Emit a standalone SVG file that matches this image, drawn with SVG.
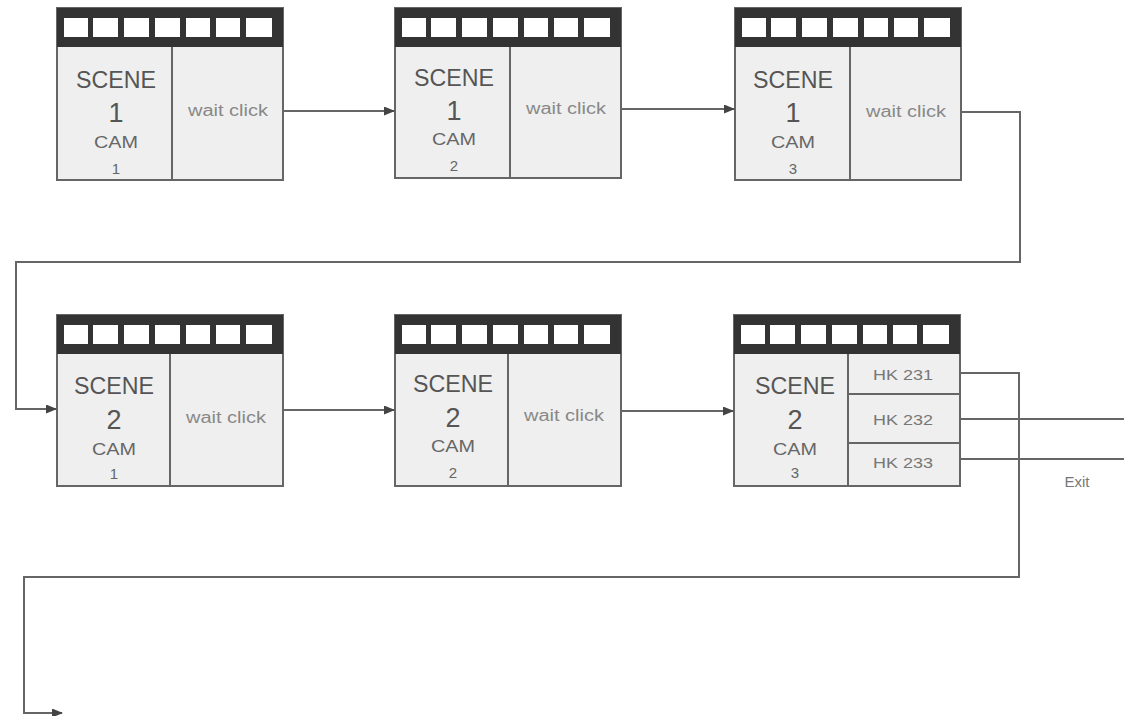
<svg xmlns="http://www.w3.org/2000/svg" width="1124" height="716" viewBox="0 0 1124 716">
<defs>
<marker id="arr" markerWidth="11" markerHeight="9" refX="10" refY="4.5" orient="auto" markerUnits="userSpaceOnUse">
<path d="M0,0 L11,4.5 L0,9 Z" fill="#444"/>
</marker>
<g id="hdr">
<rect x="0" y="0" width="226" height="39" fill="#333"/>
<rect x="7" y="10" width="24" height="19" fill="#fff"/>
<rect x="36" y="10" width="25" height="19" fill="#fff"/>
<rect x="67" y="10" width="25" height="19" fill="#fff"/>
<rect x="98" y="10" width="25" height="19" fill="#fff"/>
<rect x="129" y="10" width="24" height="19" fill="#fff"/>
<rect x="159" y="10" width="24" height="19" fill="#fff"/>
<rect x="189" y="10" width="26" height="19" fill="#fff"/>
</g>
</defs>
<style>
.box{fill:#efefef;stroke:#666;stroke-width:2}
.div{stroke:#666;stroke-width:2}
.t{font-family:"Liberation Sans","DejaVu Sans",sans-serif;text-anchor:middle}
.sc{font-size:23px;fill:#555}
.dg{font-size:27px;fill:#555}
.cam{font-size:16px;fill:#666}
.sm{font-size:15px;fill:#666}
.wc{font-size:16px;fill:#888}
.hk{font-size:15px;fill:#777}
.c{fill:none;stroke:#666;stroke-width:2}
</style>
<rect width="1124" height="716" fill="#fff"/>

<g id="node-s1c1">
<rect class="box" x="57" y="8" width="226" height="172"/>
<use href="#hdr" x="57" y="8"/>
<line class="div" x1="172" y1="47" x2="172" y2="180"/>
<text class="t sc" x="116" y="88" textLength="80" lengthAdjust="spacingAndGlyphs">SCENE</text>
<text class="t dg" x="116" y="122">1</text>
<text class="t cam" x="116" y="148" textLength="44" lengthAdjust="spacingAndGlyphs">CAM</text>
<text class="t sm" x="116" y="174">1</text>
<text class="t wc" x="228" y="116" textLength="80" lengthAdjust="spacingAndGlyphs">wait click</text>
</g>

<g id="node-s1c2">
<rect class="box" x="395" y="8" width="226" height="170"/>
<use href="#hdr" x="395" y="8"/>
<line class="div" x1="510" y1="47" x2="510" y2="178"/>
<text class="t sc" x="454" y="86" textLength="80" lengthAdjust="spacingAndGlyphs">SCENE</text>
<text class="t dg" x="454" y="120">1</text>
<text class="t cam" x="454" y="145" textLength="44" lengthAdjust="spacingAndGlyphs">CAM</text>
<text class="t sm" x="454" y="171">2</text>
<text class="t wc" x="566" y="114" textLength="80" lengthAdjust="spacingAndGlyphs">wait click</text>
</g>

<g id="node-s1c3">
<rect class="box" x="735" y="8" width="226" height="172"/>
<use href="#hdr" x="735" y="8"/>
<line class="div" x1="850" y1="47" x2="850" y2="180"/>
<text class="t sc" x="793" y="88" textLength="80" lengthAdjust="spacingAndGlyphs">SCENE</text>
<text class="t dg" x="793" y="122">1</text>
<text class="t cam" x="793" y="148" textLength="44" lengthAdjust="spacingAndGlyphs">CAM</text>
<text class="t sm" x="793" y="174">3</text>
<text class="t wc" x="906" y="117" textLength="80" lengthAdjust="spacingAndGlyphs">wait click</text>
</g>

<g id="node-s2c1">
<rect class="box" x="57" y="315" width="226" height="171"/>
<use href="#hdr" x="57" y="315"/>
<line class="div" x1="170" y1="354" x2="170" y2="486"/>
<text class="t sc" x="114" y="394" textLength="80" lengthAdjust="spacingAndGlyphs">SCENE</text>
<text class="t dg" x="114" y="429">2</text>
<text class="t cam" x="114" y="455" textLength="44" lengthAdjust="spacingAndGlyphs">CAM</text>
<text class="t sm" x="114" y="479">1</text>
<text class="t wc" x="226" y="423" textLength="80" lengthAdjust="spacingAndGlyphs">wait click</text>
</g>

<g id="node-s2c2">
<rect class="box" x="395" y="315" width="226" height="171"/>
<use href="#hdr" x="395" y="315"/>
<line class="div" x1="508" y1="354" x2="508" y2="486"/>
<text class="t sc" x="453" y="392" textLength="80" lengthAdjust="spacingAndGlyphs">SCENE</text>
<text class="t dg" x="453" y="427">2</text>
<text class="t cam" x="453" y="452" textLength="44" lengthAdjust="spacingAndGlyphs">CAM</text>
<text class="t sm" x="453" y="478">2</text>
<text class="t wc" x="564" y="421" textLength="80" lengthAdjust="spacingAndGlyphs">wait click</text>
</g>

<g id="node-s2c3">
<rect class="box" x="734" y="315" width="226" height="171"/>
<use href="#hdr" x="734" y="315"/>
<line class="div" x1="848" y1="354" x2="848" y2="486"/>
<line class="div" x1="848" y1="394" x2="960" y2="394"/>
<line class="div" x1="848" y1="443" x2="960" y2="443"/>
<text class="t sc" x="795" y="394" textLength="80" lengthAdjust="spacingAndGlyphs">SCENE</text>
<text class="t dg" x="795" y="429">2</text>
<text class="t cam" x="795" y="455" textLength="44" lengthAdjust="spacingAndGlyphs">CAM</text>
<text class="t sm" x="795" y="478">3</text>
<text class="t hk" x="903" y="380" textLength="60" lengthAdjust="spacingAndGlyphs">HK 231</text>
<text class="t hk" x="903" y="425" textLength="60" lengthAdjust="spacingAndGlyphs">HK 232</text>
<text class="t hk" x="903" y="468" textLength="60" lengthAdjust="spacingAndGlyphs">HK 233</text>
</g>

<g id="connectors">
<line class="c" x1="283" y1="111" x2="394" y2="111" marker-end="url(#arr)"/>
<line class="c" x1="621" y1="109" x2="734" y2="109" marker-end="url(#arr)"/>
<polyline class="c" points="961,112 1020,112 1020,262 16,262 16,409 56,409" marker-end="url(#arr)"/>
<line class="c" x1="283" y1="410" x2="394" y2="410" marker-end="url(#arr)"/>
<line class="c" x1="621" y1="411" x2="733" y2="411" marker-end="url(#arr)"/>
<polyline class="c" points="960,373 1019,373 1019,577 24,577 24,713 62,713" marker-end="url(#arr)"/>
<line class="c" x1="960" y1="419" x2="1124" y2="419"/>
<line class="c" x1="960" y1="459" x2="1124" y2="459"/>
<text class="t" x="1077" y="487" font-size="15" fill="#777">Exit</text>
</g>
</svg>
